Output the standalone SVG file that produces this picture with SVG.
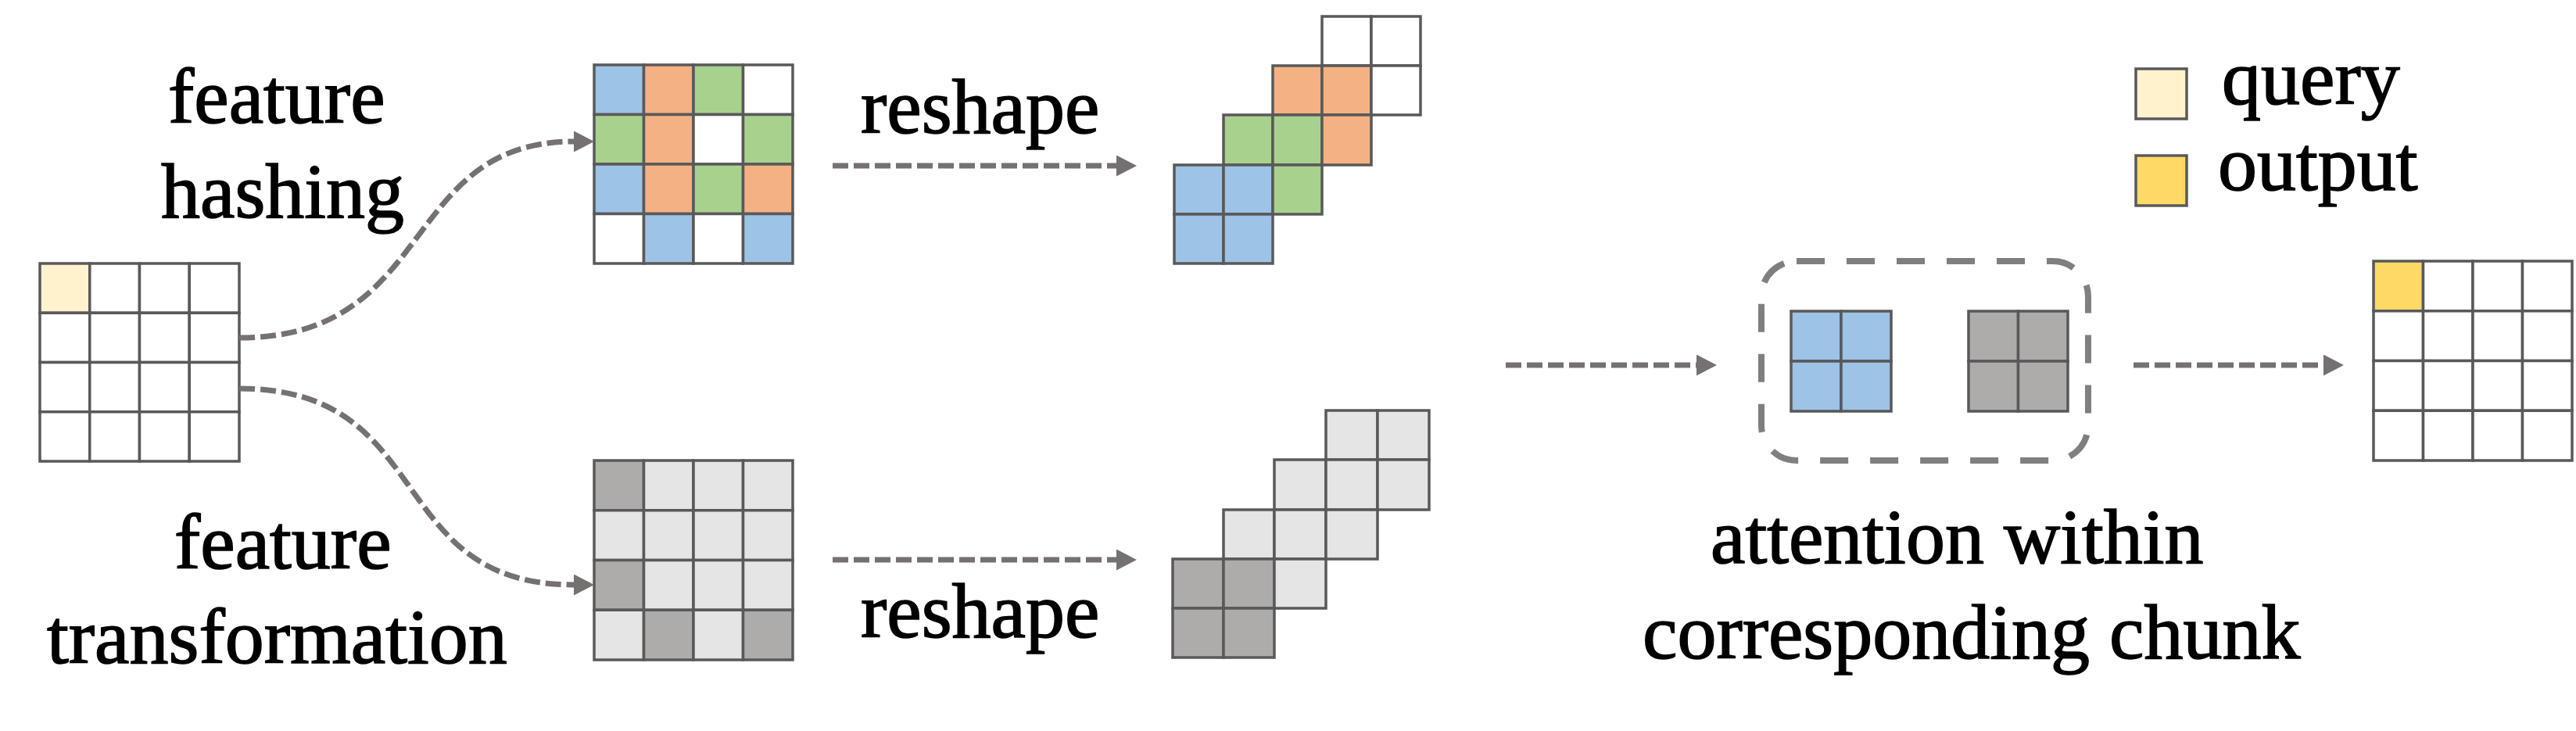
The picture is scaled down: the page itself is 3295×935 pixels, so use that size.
<svg xmlns="http://www.w3.org/2000/svg" width="3295" height="935" viewBox="0 0 3295 935">
<style>
.c{stroke:#595959;stroke-width:3.5;stroke-linejoin:miter}
.w{fill:#FFFFFF}.q{fill:#FFF2CC}.o{fill:#FFD966}.b{fill:#9DC3E6}.r{fill:#F4B183}.g{fill:#A9D18E}.d{fill:#AEABAB}.l{fill:#E6E5E5}
.t{font-family:'Liberation Serif','DejaVu Serif',serif;font-size:100px;fill:#000;stroke:#000;stroke-width:1.6}
.conn{fill:none;stroke:#767171;stroke-width:7;stroke-dasharray:20 7}
.box{fill:none;stroke:#7F7F7F;stroke-width:8;stroke-dasharray:36 28}
</style>
<defs>
<marker id="ah" markerUnits="userSpaceOnUse" markerWidth="26" markerHeight="27" viewBox="0 0 26 27" refX="0" refY="13.5" orient="auto">
<path d="M0,0 L26,13.5 L0,27 Z" fill="#767171"/>
</marker>
</defs>

<g id="input-grid">
<rect class="c q" x="51" y="337" width="63.75" height="63.25"/>
<rect class="c w" x="114.75" y="337" width="63.75" height="63.25"/>
<rect class="c w" x="178.5" y="337" width="63.75" height="63.25"/>
<rect class="c w" x="242.25" y="337" width="63.75" height="63.25"/>
<rect class="c w" x="51" y="400.25" width="63.75" height="63.25"/>
<rect class="c w" x="114.75" y="400.25" width="63.75" height="63.25"/>
<rect class="c w" x="178.5" y="400.25" width="63.75" height="63.25"/>
<rect class="c w" x="242.25" y="400.25" width="63.75" height="63.25"/>
<rect class="c w" x="51" y="463.5" width="63.75" height="63.25"/>
<rect class="c w" x="114.75" y="463.5" width="63.75" height="63.25"/>
<rect class="c w" x="178.5" y="463.5" width="63.75" height="63.25"/>
<rect class="c w" x="242.25" y="463.5" width="63.75" height="63.25"/>
<rect class="c w" x="51" y="526.75" width="63.75" height="63.25"/>
<rect class="c w" x="114.75" y="526.75" width="63.75" height="63.25"/>
<rect class="c w" x="178.5" y="526.75" width="63.75" height="63.25"/>
<rect class="c w" x="242.25" y="526.75" width="63.75" height="63.25"/>
</g>

<g id="label-hashing">
<text class="t" x="215" y="157">feature</text>
<text class="t" x="206" y="278">hashing</text>
</g>
<g id="label-transformation">
<text class="t" x="223" y="727">feature</text>
<text class="t" x="60" y="848">transformation</text>
</g>

<g id="hashed-grid">
<rect class="c b" x="760" y="83" width="63.5" height="63.5"/>
<rect class="c r" x="823.5" y="83" width="63.5" height="63.5"/>
<rect class="c g" x="887" y="83" width="63.5" height="63.5"/>
<rect class="c w" x="950.5" y="83" width="63.5" height="63.5"/>
<rect class="c g" x="760" y="146.5" width="63.5" height="63.5"/>
<rect class="c r" x="823.5" y="146.5" width="63.5" height="63.5"/>
<rect class="c w" x="887" y="146.5" width="63.5" height="63.5"/>
<rect class="c g" x="950.5" y="146.5" width="63.5" height="63.5"/>
<rect class="c b" x="760" y="210" width="63.5" height="63.5"/>
<rect class="c r" x="823.5" y="210" width="63.5" height="63.5"/>
<rect class="c g" x="887" y="210" width="63.5" height="63.5"/>
<rect class="c r" x="950.5" y="210" width="63.5" height="63.5"/>
<rect class="c w" x="760" y="273.5" width="63.5" height="63.5"/>
<rect class="c b" x="823.5" y="273.5" width="63.5" height="63.5"/>
<rect class="c w" x="887" y="273.5" width="63.5" height="63.5"/>
<rect class="c b" x="950.5" y="273.5" width="63.5" height="63.5"/>
</g>

<g id="transformed-grid">
<rect class="c d" x="760" y="589" width="63.5" height="63.75"/>
<rect class="c l" x="823.5" y="589" width="63.5" height="63.75"/>
<rect class="c l" x="887" y="589" width="63.5" height="63.75"/>
<rect class="c l" x="950.5" y="589" width="63.5" height="63.75"/>
<rect class="c l" x="760" y="652.75" width="63.5" height="63.75"/>
<rect class="c l" x="823.5" y="652.75" width="63.5" height="63.75"/>
<rect class="c l" x="887" y="652.75" width="63.5" height="63.75"/>
<rect class="c l" x="950.5" y="652.75" width="63.5" height="63.75"/>
<rect class="c d" x="760" y="716.5" width="63.5" height="63.75"/>
<rect class="c l" x="823.5" y="716.5" width="63.5" height="63.75"/>
<rect class="c l" x="887" y="716.5" width="63.5" height="63.75"/>
<rect class="c l" x="950.5" y="716.5" width="63.5" height="63.75"/>
<rect class="c l" x="760" y="780.25" width="63.5" height="63.75"/>
<rect class="c d" x="823.5" y="780.25" width="63.5" height="63.75"/>
<rect class="c l" x="887" y="780.25" width="63.5" height="63.75"/>
<rect class="c d" x="950.5" y="780.25" width="63.5" height="63.75"/>
</g>

<g id="label-reshape-top"><text class="t" x="1101" y="170">reshape</text></g>
<g id="label-reshape-bottom"><text class="t" x="1101" y="815">reshape</text></g>

<g id="staircase-top">
<rect class="c w" x="1691" y="21" width="63" height="63"/>
<rect class="c w" x="1754" y="21" width="63" height="63"/>
<rect class="c r" x="1628" y="84" width="63" height="63"/>
<rect class="c r" x="1691" y="84" width="63" height="63"/>
<rect class="c w" x="1754" y="84" width="63" height="63"/>
<rect class="c g" x="1565" y="147" width="63" height="64"/>
<rect class="c g" x="1628" y="147" width="63" height="64"/>
<rect class="c r" x="1691" y="147" width="63" height="64"/>
<rect class="c b" x="1502" y="211" width="63" height="63"/>
<rect class="c b" x="1565" y="211" width="63" height="63"/>
<rect class="c g" x="1628" y="211" width="63" height="63"/>
<rect class="c b" x="1502" y="274" width="63" height="63"/>
<rect class="c b" x="1565" y="274" width="63" height="63"/>
</g>

<g id="staircase-bottom">
<rect class="c l" x="1696" y="525" width="66" height="63"/>
<rect class="c l" x="1762" y="525" width="66" height="63"/>
<rect class="c l" x="1630" y="588" width="66" height="64"/>
<rect class="c l" x="1696" y="588" width="66" height="64"/>
<rect class="c l" x="1762" y="588" width="66" height="64"/>
<rect class="c l" x="1565" y="652" width="65" height="63"/>
<rect class="c l" x="1630" y="652" width="66" height="63"/>
<rect class="c l" x="1696" y="652" width="66" height="63"/>
<rect class="c d" x="1500" y="715" width="65" height="63"/>
<rect class="c d" x="1565" y="715" width="65" height="63"/>
<rect class="c l" x="1630" y="715" width="66" height="63"/>
<rect class="c d" x="1500" y="778" width="65" height="63"/>
<rect class="c d" x="1565" y="778" width="65" height="63"/>
</g>

<g id="chunk">
<rect class="box" x="2253" y="334" width="418" height="255" rx="45" ry="45"/>
<rect class="c b" x="2291" y="398" width="64" height="64"/>
<rect class="c b" x="2355" y="398" width="64" height="64"/>
<rect class="c b" x="2291" y="462" width="64" height="64"/>
<rect class="c b" x="2355" y="462" width="64" height="64"/>
<rect class="c d" x="2518" y="398" width="63.5" height="64"/>
<rect class="c d" x="2581.5" y="398" width="63.5" height="64"/>
<rect class="c d" x="2518" y="462" width="63.5" height="64"/>
<rect class="c d" x="2581.5" y="462" width="63.5" height="64"/>
</g>

<g id="label-attention">
<text class="t" x="2188" y="720">attention within</text>
<text class="t" x="2101" y="842">corresponding chunk</text>
</g>

<g id="output-grid">
<rect class="c o" x="3036" y="334" width="63.5" height="63.75"/>
<rect class="c w" x="3099.5" y="334" width="63.5" height="63.75"/>
<rect class="c w" x="3163" y="334" width="63.5" height="63.75"/>
<rect class="c w" x="3226.5" y="334" width="63.5" height="63.75"/>
<rect class="c w" x="3036" y="397.75" width="63.5" height="63.75"/>
<rect class="c w" x="3099.5" y="397.75" width="63.5" height="63.75"/>
<rect class="c w" x="3163" y="397.75" width="63.5" height="63.75"/>
<rect class="c w" x="3226.5" y="397.75" width="63.5" height="63.75"/>
<rect class="c w" x="3036" y="461.5" width="63.5" height="63.75"/>
<rect class="c w" x="3099.5" y="461.5" width="63.5" height="63.75"/>
<rect class="c w" x="3163" y="461.5" width="63.5" height="63.75"/>
<rect class="c w" x="3226.5" y="461.5" width="63.5" height="63.75"/>
<rect class="c w" x="3036" y="525.25" width="63.5" height="63.75"/>
<rect class="c w" x="3099.5" y="525.25" width="63.5" height="63.75"/>
<rect class="c w" x="3163" y="525.25" width="63.5" height="63.75"/>
<rect class="c w" x="3226.5" y="525.25" width="63.5" height="63.75"/>
</g>

<g id="legend">
<rect class="c q" x="2732" y="88" width="65" height="64"/>
<text class="t" x="2842" y="133">query</text>
<rect class="c o" x="2732" y="199" width="65" height="64"/>
<text class="t" x="2837" y="243">output</text>
</g>

<g id="connectors">
<path class="conn" d="M306,432 C560,432 510,181 734,181" marker-end="url(#ah)"/>
<path class="conn" d="M306,497 C560,497 490,748 734,748" marker-end="url(#ah)"/>
<path class="conn" d="M1065,212 L1428,212" marker-end="url(#ah)"/>
<path class="conn" d="M1065,716 L1428,716" marker-end="url(#ah)"/>
<path class="conn" d="M1926,467 L2170,467" marker-end="url(#ah)"/>
<path class="conn" d="M2729,467 L2972,467" marker-end="url(#ah)"/>
</g>
</svg>
